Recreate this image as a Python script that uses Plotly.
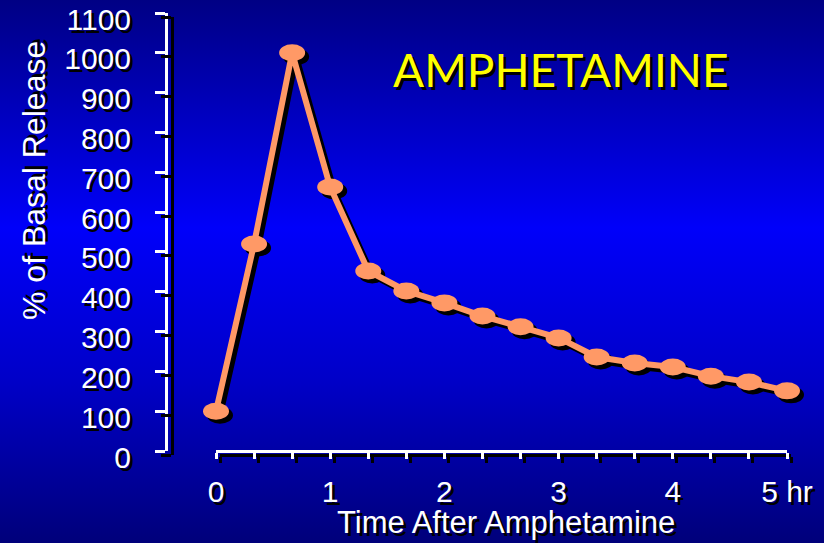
import base64
import plotly.graph_objects as go

# ---------------- data ----------------
time_hr = [0, 1/3, 2/3, 1, 4/3, 5/3, 2, 7/3, 8/3, 3, 10/3, 11/3, 4, 13/3, 14/3, 5]
release_pct = [100, 520, 1000, 663, 452, 402, 372, 339, 312, 284, 236, 221, 211, 188, 173, 151]

x_tick_vals = [0, 1/3, 2/3, 1, 4/3, 5/3, 2, 7/3, 8/3, 3, 10/3, 11/3, 4, 13/3, 14/3, 5]
x_tick_text = ["0", "", "", "1", "", "", "2", "", "", "3", "", "", "4", "", "", "5 hr"]
y_tick_vals = [0, 100, 200, 300, 400, 500, 600, 700, 800, 900, 1000, 1100]

title_text = "AMPHETAMINE"
x_title = "Time After Amphetamine"
y_title = "% of Basal Release"

# ---------------- geometry (pixels) ----------------
W, H = 824, 543
X0_PX, X5_PX = 216, 787       # x = 0 and x = 5
Y0_PX, YTOP_PX = 451, 13      # y = 0 and y = 1100
YAX_PX = 168                  # y axis line
RIGHT_PX = 815
SH = 4                        # shadow offset

K = (X5_PX - X0_PX) / 5.0               # px per hour
KY = (Y0_PX - YTOP_PX) / 1100.0         # px per unit


def fx(px):
    return px / W


def fy(px):
    return 1 - px / H


SALMON = "#FF9966"
WHITE = "#FFFFFF"
FONT = "Liberation Sans, Arial, sans-serif"
TSHADOW = "3px 3px 0px #000000"

# background gradient as SVG
svg = f'''<svg xmlns="http://www.w3.org/2000/svg" width="{W}" height="{H}" viewBox="0 0 {W} {H}" preserveAspectRatio="none">
<defs><linearGradient id="g" x1="0" y1="0" x2="0" y2="1">
<stop offset="0" stop-color="#000084"/>
<stop offset="0.42" stop-color="#0000FA"/>
<stop offset="0.7" stop-color="#0000C8"/>
<stop offset="1" stop-color="#00007A"/>
</linearGradient></defs>
<rect x="0" y="0" width="{W}" height="{H}" fill="url(#g)"/></svg>'''
bg_uri = "data:image/svg+xml;base64," + base64.b64encode(svg.encode()).decode()

dx_sh = SH / K
dy_sh = -SH / KY

fig = go.Figure()

# invisible traces to create helper axes subplots
for xa, ya in (("x", "y2"), ("x2", "y"), ("x3", "y")):
    fig.add_trace(go.Scatter(x=[0], y=[0], xaxis=xa, yaxis=ya, mode="markers",
                             marker=dict(opacity=0), hoverinfo="skip", showlegend=False))

# shadow line
fig.add_trace(go.Scatter(x=[t + dx_sh for t in time_hr], y=[v + dy_sh for v in release_pct],
                         mode="lines", line=dict(color="black", width=6),
                         hoverinfo="skip", showlegend=False, cliponaxis=False))
# main line
fig.add_trace(go.Scatter(x=time_hr, y=release_pct, mode="lines",
                         line=dict(color=SALMON, width=6),
                         showlegend=False, cliponaxis=False))

rx = 13 / K
ry = 8.5 / KY
shapes = []
for t, v in zip(time_hr, release_pct):
    shapes.append(dict(type="circle", xref="x", yref="y", layer="below",
                       x0=t + dx_sh - rx, x1=t + dx_sh + rx,
                       y0=v + dy_sh - ry, y1=v + dy_sh + ry,
                       fillcolor="black", line=dict(width=0)))
for t, v in zip(time_hr, release_pct):
    shapes.append(dict(type="circle", xref="x", yref="y", layer="above",
                       x0=t - rx, x1=t + rx, y0=v - ry, y1=v + ry,
                       fillcolor=SALMON, line=dict(width=0)))

common_y = dict(range=[0, 1100], tickvals=y_tick_vals, ticks="outside", ticklen=10,
                tickwidth=3, showline=True, linewidth=3, showgrid=False, zeroline=False,
                fixedrange=True, automargin=False, ticklabeloverflow="allow")
common_x = dict(range=[0, 5], tickvals=x_tick_vals, ticks="outside", ticklen=6,
                tickwidth=3, showline=True, linewidth=3, showgrid=False, zeroline=False,
                fixedrange=True, automargin=False, ticklabeloverflow="allow")

fig.update_layout(
    template="none",
    width=W, height=H,
    margin=dict(l=0, r=0, t=0, b=0, pad=0),
    paper_bgcolor="#0000A0",
    plot_bgcolor="rgba(0,0,0,0)",
    showlegend=False,
    images=[dict(source=bg_uri, xref="paper", yref="paper", x=0, y=1,
                 sizex=1, sizey=1, xanchor="left", yanchor="top",
                 sizing="stretch", layer="below")],
    xaxis=dict(domain=[fx(YAX_PX), fx(RIGHT_PX)],
               range=[(YAX_PX - X0_PX) / K, (RIGHT_PX - X0_PX) / K],
               visible=False, fixedrange=True, anchor="y", automargin=False),
    yaxis=dict(domain=[fy(Y0_PX), fy(YTOP_PX)], anchor="x",
               color=WHITE, linecolor=WHITE, tickcolor=WHITE,
               tickfont=dict(family=FONT, size=30, color=WHITE, shadow=TSHADOW),
               ticklabelstandoff=18, ticklabelshift=6,
               **common_y),
    yaxis2=dict(domain=[fy(Y0_PX + SH), fy(YTOP_PX + SH)], anchor="free",
                position=fx(YAX_PX + SH), linecolor="black", tickcolor="black",
                showticklabels=False, **common_y),
    xaxis2=dict(domain=[fx(X0_PX + SH), fx(X5_PX + SH)], anchor="free",
                position=fy(Y0_PX + SH), linecolor="black", tickcolor="black",
                showticklabels=False, **common_x),
    xaxis3=dict(domain=[fx(X0_PX), fx(X5_PX)], anchor="free", position=fy(Y0_PX),
                linecolor=WHITE, tickcolor=WHITE, ticktext=x_tick_text,
                tickfont=dict(family=FONT, size=30, color=WHITE, shadow=TSHADOW),
                ticklabelstandoff=7,
                **common_x),
    shapes=shapes,
    annotations=[
        dict(text=title_text, xref="paper", yref="paper",
             x=fx(561), y=fy(69), xanchor="center", yanchor="middle",
             showarrow=False,
             font=dict(family="Lato, Open Sans, sans-serif", size=46,
                       color="#FFFF00", shadow=TSHADOW)),
        dict(text=x_title, xref="paper", yref="paper",
             x=fx(506), y=fy(522), xanchor="center", yanchor="middle",
             showarrow=False,
             font=dict(family=FONT, size=31, color=WHITE, shadow=TSHADOW)),
        dict(text=y_title, xref="paper", yref="paper", textangle=-90,
             x=fx(34), y=fy(181), xanchor="center", yanchor="middle",
             showarrow=False,
             font=dict(family=FONT, size=32, color=WHITE, shadow=TSHADOW)),
    ],
)

fig.write_html("out.html")
